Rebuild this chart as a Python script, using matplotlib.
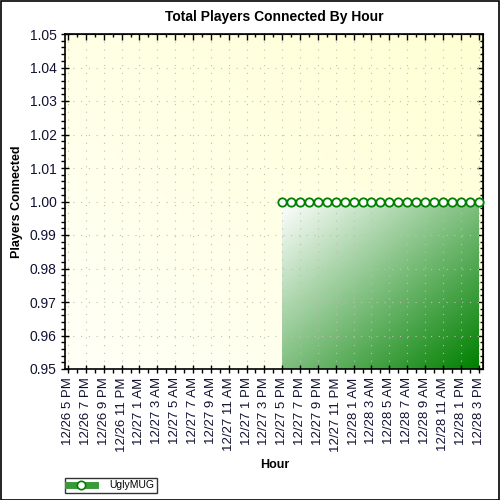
import numpy as np
import matplotlib
matplotlib.use("Agg")
import matplotlib.pyplot as plt
from matplotlib.lines import Line2D
from matplotlib.ticker import MultipleLocator

plt.rcParams['font.family'] = ['Liberation Sans', 'DejaVu Sans']

# hours since 12/26 5 PM, one label every two hours
hour_labels = ['12/26 5 PM', '12/26 7 PM', '12/26 9 PM', '12/26 11 PM',
               '12/27 1 AM', '12/27 3 AM', '12/27 5 AM', '12/27 7 AM',
               '12/27 9 AM', '12/27 11 AM', '12/27 1 PM', '12/27 3 PM',
               '12/27 5 PM', '12/27 7 PM', '12/27 9 PM', '12/27 11 PM',
               '12/28 1 AM', '12/28 3 AM', '12/28 5 AM', '12/28 7 AM',
               '12/28 9 AM', '12/28 11 AM', '12/28 1 PM', '12/28 3 PM']
hours = [24, 25, 26, 27, 28, 29, 30, 31, 32, 33, 34, 35,
         36, 37, 38, 39, 40, 41, 42, 43, 44, 45, 46]
players = [1, 1, 1, 1, 1, 1, 1, 1, 1, 1, 1, 1,
           1, 1, 1, 1, 1, 1, 1, 1, 1, 1, 1]
series_name = 'UglyMUG'

green = '#008000'
ymin, ymax = 0.95, 1.05
xmin, xmax = -0.35, 46.5

fig = plt.figure(figsize=(5, 5), dpi=100)
fig.patch.set_facecolor('white')
fig.patches.append(plt.Rectangle((0.001, 0.001), 0.997, 0.997, transform=fig.transFigure,
                                 fill=False, edgecolor='black', linewidth=1.2))
ax = fig.add_axes([0.13, 0.262, 0.836, 0.67])

# light yellow background gradient (whiter bottom-left, yellower top-right)
gy, gx = np.mgrid[0:1:50j, 0:1:50j]
t = (gx + gy) / 2
c0 = np.array([1.0, 1.0, 0.97])
c1 = np.array([1.0, 1.0, 0.83])
bg = c0 + (c1 - c0) * t[..., None]
ax.imshow(bg, extent=[xmin, xmax, ymin, ymax], origin='lower', aspect='auto', zorder=0)

# area fill, white top-left -> green bottom-right
poly = ax.fill_between(hours, ymin, players, color='none', zorder=1)
fy, fx = np.mgrid[0:1:100j, 0:1:100j]
ft = np.clip((fx + fy) / 2, 0, 1)
white = np.array([1.0, 1.0, 1.0])
g = np.array([0.0, 0.5, 0.0])
fimg = white + (g - white) * ft[..., None]
im = ax.imshow(fimg, extent=[min(hours), max(hours), ymin, max(players)],
               origin='upper', aspect='auto', zorder=1)
im.set_clip_path(poly.get_paths()[0], transform=ax.transData)

ax.plot(hours, players, color=green, linewidth=1.8, marker='o', markersize=6,
        markerfacecolor='white', markeredgecolor=green, markeredgewidth=1.3,
        zorder=3, clip_on=False)

ax.set_xlim(xmin, xmax)
ax.set_ylim(ymin, ymax)
ax.set_xticks(range(0, 47, 2))
ax.set_xticklabels(hour_labels, rotation=90, fontsize=9.5)
ax.xaxis.set_minor_locator(MultipleLocator(1))
yt = np.arange(0.95, 1.0501, 0.01)
ax.set_yticks(yt)
ax.set_yticklabels(['%.2f' % v for v in yt], fontsize=10)
ax.yaxis.set_minor_locator(MultipleLocator(0.002))

ax.tick_params(which='major', direction='inout', length=6, width=1, pad=3)
ax.tick_params(which='minor', direction='out', length=3, width=1)
ax.tick_params(axis='both', which='both', labelcolor='#111133')
for s in ax.spines.values():
    s.set_linewidth(1.2)

# inward ticks along the top and right edges
top = ax.secondary_xaxis('top')
top.set_xticks(range(0, 47, 2))
top.xaxis.set_minor_locator(MultipleLocator(1))
top.tick_params(which='major', direction='in', length=4, width=1, labeltop=False)
top.tick_params(which='minor', direction='in', length=2.5, width=1)
right = ax.secondary_yaxis('right')
right.set_yticks(yt)
right.yaxis.set_minor_locator(MultipleLocator(0.002))
right.tick_params(which='major', direction='in', length=4, width=1, labelright=False)
right.tick_params(which='minor', direction='in', length=2.5, width=1)

ax.grid(True, which='major', linestyle=(0, (1, 6)), color='#c0c0b0', linewidth=0.8)
for gl in ax.get_xgridlines() + ax.get_ygridlines():
    gl.set_zorder(0.5)

ax.set_title('Total Players Connected By Hour', fontsize=10, fontweight='bold', pad=9)
ax.set_ylabel('Players Connected', fontsize=9, fontweight='bold', labelpad=5)
fig.text(0.55, 0.07, 'Hour', fontsize=9, fontweight='bold', ha='center', va='center')

handle = Line2D([], [], color='#3a9a3a', linewidth=5, marker='o', markersize=6,
                markerfacecolor='white', markeredgecolor=green, markeredgewidth=1.2)
leg = fig.legend([handle], [series_name], loc='lower left',
                 bbox_to_anchor=(0.13, 0.014), fontsize=7.5, frameon=True,
                 fancybox=False, edgecolor='black', handlelength=2.6,
                 borderpad=0.25, handletextpad=1.4, borderaxespad=0)
leg.get_frame().set_linewidth(1)

fig.savefig('out.png', dpi=100)
